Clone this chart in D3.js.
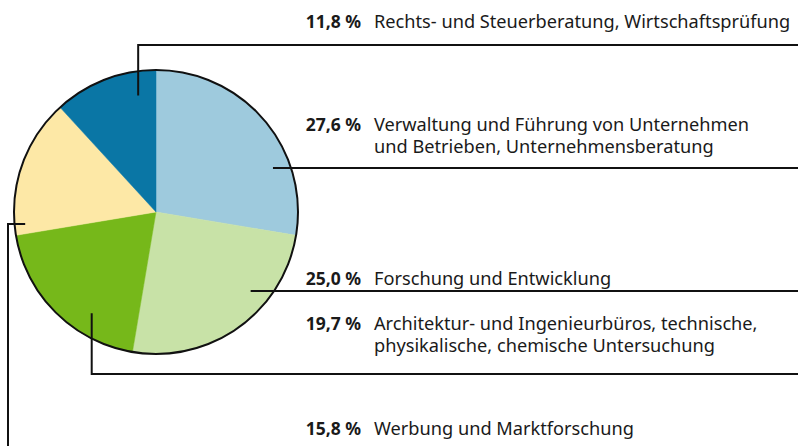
<!DOCTYPE html>
<html>
<head>
<meta charset="utf-8">
<script src="https://cdn.jsdelivr.net/npm/d3@7"></script>
<style>
  body { margin: 0; background: #fff; }
  svg { display: block; font-family: "Noto Sans", sans-serif; }
  .pct { font-weight: bold; font-size: 17.5px; fill: #1a1a1a; }
  .lbl { font-size: 18.2px; fill: #1a1a1a; }
  .leader { fill: none; stroke: #111; stroke-width: 2; }
</style>
</head>
<body>
<div id="vis"></div>
<script>
// Shares in percent, clockwise from 12 o'clock
let categories = [
    ['Verwaltung und Führung von Unternehmen', 'und Betrieben, Unternehmensberatung'],
    ['Forschung und Entwicklung'],
    ['Architektur- und Ingenieurbüros, technische,', 'physikalische, chemische Untersuchung'],
    ['Werbung und Marktforschung'],
    ['Rechts- und Steuerberatung, Wirtschaftsprüfung']
];
let values = [27.6, 25.0, 19.7, 15.8, 11.8];
let valueLabels = ['27,6 %', '25,0 %', '19,7 %', '15,8 %', '11,8 %'];
let colors = ['#9ecadd', '#c8e2a7', '#76b81a', '#fde8a6', '#0a76a5'];

let width = 798, height = 446;
let cx = 156, cy = 212, radius = 142;

// label block: baseline of first line, rule line y, leader anchor (angle deg, radius share), leader type
let layout = [
    { y: 131, rule: 168, angle: 69.4, r: 0.88, type: 'h' },
    { y: 285, rule: 291, angle: 130, r: 0.87, type: 'h' },
    { y: 330, rule: 374, angle: 212.4, r: 0.845, type: 'down' },
    { y: 435, rule: null, angle: 264.8, r: 0.925, type: 'left' },
    { y: 28, rule: 45, angle: 351.3, r: 0.83, type: 'up' }
];
let pctX = 361, lblX = 374, lineH = 22;

let svg = d3.select('#vis').append('svg')
    .attr('width', width)
    .attr('height', height);

let pie = d3.pie().sort(null).value(d => d);
let arc = d3.arc().innerRadius(0).outerRadius(radius);

let g = svg.append('g').attr('transform', `translate(${cx}, ${cy})`);

g.selectAll('path.slice')
    .data(pie(values))
    .enter().append('path')
    .attr('class', 'slice')
    .attr('d', arc)
    .attr('fill', (d, i) => colors[i])
    .attr('stroke', (d, i) => colors[i])
    .attr('stroke-width', 0.5);

g.append('circle')
    .attr('r', radius)
    .attr('fill', 'none')
    .attr('stroke', '#111')
    .attr('stroke-width', 2);

// leader lines
let anchor = l => {
    let a = l.angle * Math.PI / 180;
    return [cx + Math.sin(a) * radius * l.r, cy - Math.cos(a) * radius * l.r];
};

layout.forEach((l, i) => {
    let [ax, ay] = anchor(l);
    let pts;
    if (l.type === 'h') {
        pts = [[ax, l.rule], [width, l.rule]];
    } else if (l.type === 'up' || l.type === 'down') {
        pts = [[ax, ay], [ax, l.rule], [width, l.rule]];
    } else {
        pts = [[ax, ay], [8, ay], [8, height]];
    }
    svg.append('path')
        .attr('class', 'leader')
        .attr('d', d3.line()(pts));
});

// labels
layout.forEach((l, i) => {
    svg.append('text')
        .attr('class', 'pct')
        .attr('x', pctX)
        .attr('y', l.y)
        .attr('text-anchor', 'end')
        .text(valueLabels[i]);

    let t = svg.append('text')
        .attr('class', 'lbl')
        .attr('x', lblX)
        .attr('y', l.y);
    categories[i].forEach((line, j) => {
        t.append('tspan')
            .attr('x', lblX)
            .attr('y', l.y + j * lineH)
            .text(line);
    });
});
</script>
</body>
</html>
